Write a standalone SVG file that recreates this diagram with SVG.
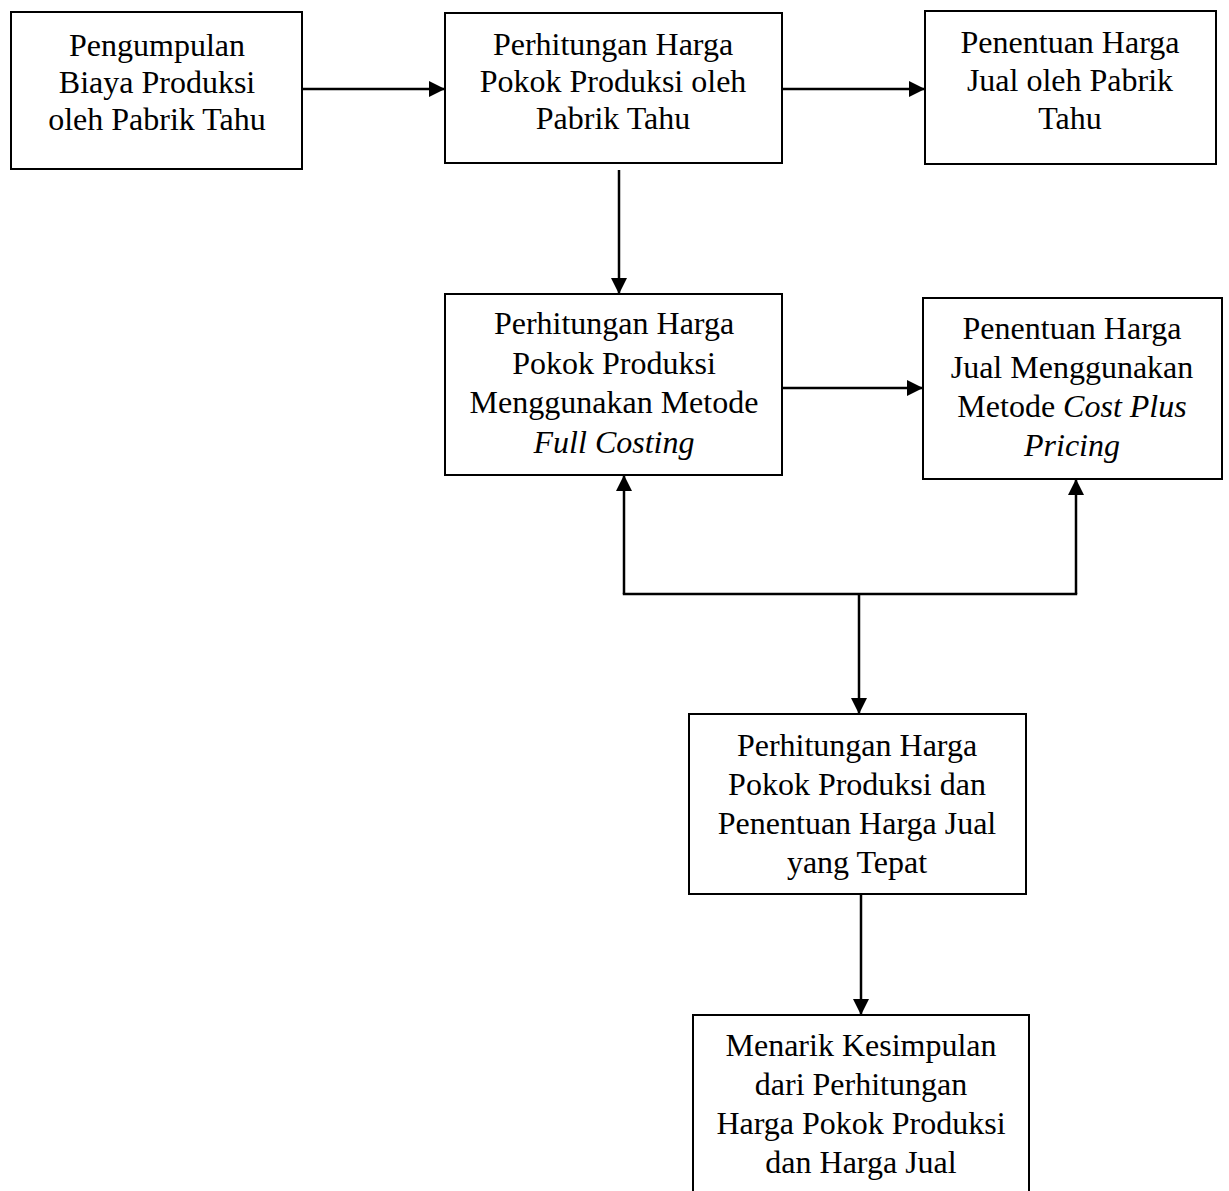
<svg xmlns="http://www.w3.org/2000/svg" width="1229" height="1191" viewBox="0 0 1229 1191">
<style>
.box{fill:#fff;stroke:#000;stroke-width:2}
.t{font-family:"Liberation Serif","Times New Roman",serif;font-size:32px;fill:#000;text-anchor:middle}
.i{font-style:italic}
.c{fill:none;stroke:#000;stroke-width:2.5}
</style>
<defs>
<marker id="ah" viewBox="0 0 16 16" refX="16" refY="8" markerWidth="16" markerHeight="16" markerUnits="userSpaceOnUse" orient="auto">
<path d="M0,0 L16,8 L0,16 Z" fill="#000"/>
</marker>
</defs>
<rect width="1229" height="1191" fill="#fff"/>
<g id="connectors">
<path class="c" d="M302,89 H445" marker-end="url(#ah)"/>
<path class="c" d="M782,89 H925" marker-end="url(#ah)"/>
<path class="c" d="M619,170 V294" marker-end="url(#ah)"/>
<path class="c" d="M783,388 H923" marker-end="url(#ah)"/>
<path class="c" d="M624,594 V475" marker-end="url(#ah)"/>
<path class="c" d="M1076,594 V479" marker-end="url(#ah)"/>
<path class="c" d="M622.8,594 H1077.2"/>
<path class="c" d="M859,594 V714" marker-end="url(#ah)"/>
<path class="c" d="M861,894 V1015" marker-end="url(#ah)"/>
</g>
<g id="n1">
<rect class="box" x="11" y="12" width="291" height="157"/>
<text class="t" x="157" y="56">Pengumpulan</text>
<text class="t" x="157" y="93">Biaya Produksi</text>
<text class="t" x="157" y="130">oleh Pabrik Tahu</text>
</g>
<g id="n2">
<rect class="box" x="445" y="13" width="337" height="150"/>
<text class="t" x="613" y="55">Perhitungan Harga</text>
<text class="t" x="613" y="92">Pokok Produksi oleh</text>
<text class="t" x="613" y="129">Pabrik Tahu</text>
</g>
<g id="n3">
<rect class="box" x="925" y="11" width="291" height="153"/>
<text class="t" x="1070" y="53">Penentuan Harga</text>
<text class="t" x="1070" y="91">Jual oleh Pabrik</text>
<text class="t" x="1070" y="129">Tahu</text>
</g>
<g id="n4">
<rect class="box" x="445" y="294" width="337" height="181"/>
<text class="t" x="614" y="334">Perhitungan Harga</text>
<text class="t" x="614" y="374">Pokok Produksi</text>
<text class="t" x="614" y="413">Menggunakan Metode</text>
<text class="t i" x="614" y="453">Full Costing</text>
</g>
<g id="n5">
<rect class="box" x="923" y="298" width="299" height="181"/>
<text class="t" x="1072" y="339">Penentuan Harga</text>
<text class="t" x="1072" y="378">Jual Menggunakan</text>
<text class="t" x="1072" y="417">Metode <tspan class="i">Cost Plus</tspan></text>
<text class="t i" x="1072" y="456">Pricing</text>
</g>
<g id="n6">
<rect class="box" x="689" y="714" width="337" height="180"/>
<text class="t" x="857" y="756">Perhitungan Harga</text>
<text class="t" x="857" y="795">Pokok Produksi dan</text>
<text class="t" x="857" y="834">Penentuan Harga Jual</text>
<text class="t" x="857" y="873">yang Tepat</text>
</g>
<g id="n7">
<rect class="box" x="693" y="1015" width="336" height="190"/>
<text class="t" x="861" y="1056">Menarik Kesimpulan</text>
<text class="t" x="861" y="1095">dari Perhitungan</text>
<text class="t" x="861" y="1134">Harga Pokok Produksi</text>
<text class="t" x="861" y="1173">dan Harga Jual</text>
</g>
</svg>
